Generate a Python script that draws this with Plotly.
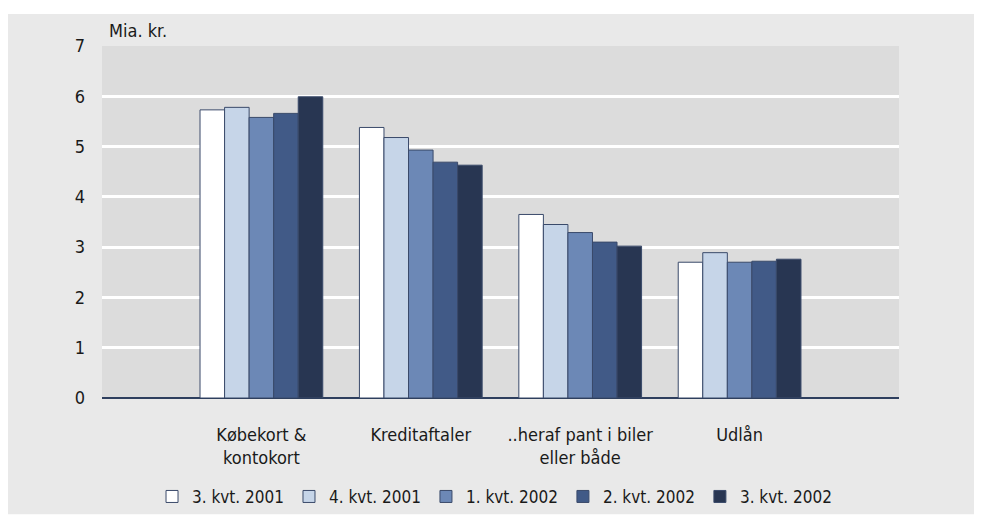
import plotly.graph_objects as go

categories = ["Købekort &<br>kontokort", "Kreditaftaler", "..heraf pant i biler<br>eller både", "Udlån"]
series_names = ["3. kvt. 2001", "4. kvt. 2001", "1. kvt. 2002", "2. kvt. 2002", "3. kvt. 2002"]
q3_2001 = [5.73, 5.38, 3.65, 2.70]
q4_2001 = [5.78, 5.18, 3.45, 2.89]
q1_2002 = [5.58, 4.93, 3.29, 2.70]
q2_2002 = [5.66, 4.69, 3.10, 2.72]
q3_2002 = [5.99, 4.63, 3.02, 2.76]
series_values = [q3_2001, q4_2001, q1_2002, q2_2002, q3_2002]
colors = ["#FFFFFF", "#C6D5E8", "#6C88B6", "#415A87", "#283652"]
y_ticks = [0, 1, 2, 3, 4, 5, 6, 7]

FONT = "DejaVu Sans Condensed, Liberation Sans Narrow, Open Sans, sans-serif"

positions = list(range(len(categories)))

fig = go.Figure()
for name, vals, col in zip(series_names, series_values, colors):
    fig.add_trace(go.Bar(
        x=positions, y=vals, name=name,
        marker=dict(color=col, line=dict(color="#3A4A6A", width=1)),
    ))

fig.update_layout(
    width=974, height=507,
    margin=dict(l=94, r=83, t=38, b=117, autoexpand=False),
    paper_bgcolor="#FFFFFF",
    plot_bgcolor="#DCDCDC",
    barmode="group",
    bargap=0.23,
    bargroupgap=0,
    font=dict(family=FONT, size=18, color="#1A1A1A"),
    showlegend=True,
    legend=dict(
        orientation="h", x=0.4925, xanchor="center", y=-0.281, yanchor="middle",
        font=dict(size=17, family=FONT), bgcolor="rgba(0,0,0,0)",
        itemwidth=30, tracegroupgap=0, traceorder="normal",
    ),
    xaxis=dict(
        range=[-1, 4], tickmode="array", tickvals=positions, ticktext=categories,
        showgrid=False, zeroline=False, showline=False, ticks="",
        ticklabelstandoff=24, tickfont=dict(size=18, family=FONT),
        fixedrange=True, automargin=False,
    ),
    yaxis=dict(
        range=[0, 7], tickmode="array", tickvals=y_ticks,
        showgrid=True, gridcolor="#FFFFFF", gridwidth=2.5,
        zeroline=True, zerolinecolor="#2E3F5E", zerolinewidth=1.5,
        showline=False, ticks="", ticklabelstandoff=16,
        tickfont=dict(size=18, family=FONT), automargin=False,
    ),
    shapes=[
        dict(type="rect", xref="paper", yref="paper", x0=-0.118, x1=1.11, y0=-0.33, y1=1.091,
             fillcolor="#E9E9E9", line=dict(width=0), layer="below"),
        dict(type="rect", xref="paper", yref="paper", x0=0, x1=1, y0=0, y1=1,
             fillcolor="#DCDCDC", line=dict(width=0), layer="below"),
    ],
    annotations=[
        dict(text="Mia. kr.", xref="paper", yref="paper", x=0.006, y=1.045,
             xanchor="left", yanchor="middle", showarrow=False,
             font=dict(size=18, family=FONT)),
    ],
)

fig.write_html("out.html")
